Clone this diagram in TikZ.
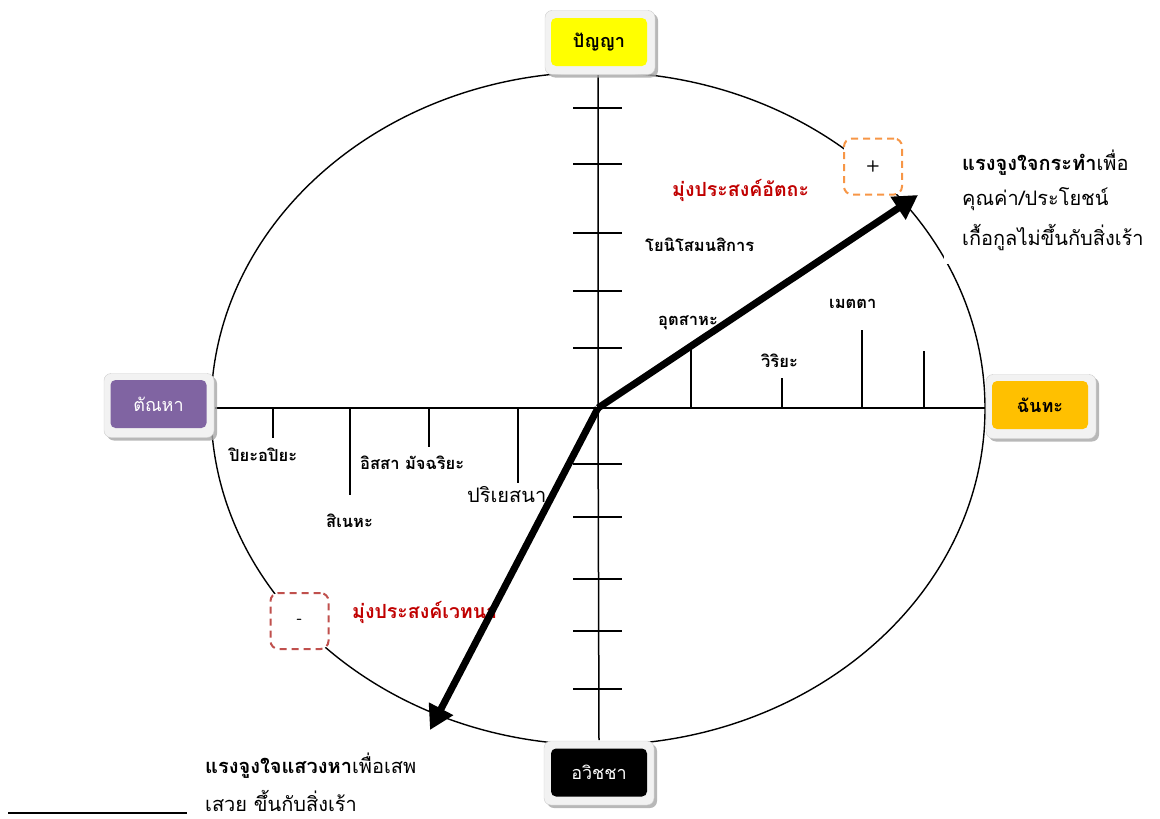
\documentclass[tikz,border=0pt]{standalone}
\usepackage{fontspec}
\newfontfamily\thai[Script=Thai]{Loma}
\usetikzlibrary{arrows.meta,shadows}
\definecolor{cyel}{HTML}{FFFF00}
\definecolor{cpur}{HTML}{8064A2}
\definecolor{corg}{HTML}{FFC000}
\definecolor{cdashO}{HTML}{F79646}
\definecolor{cdashR}{HTML}{C0504D}
\definecolor{cred}{HTML}{C00000}
\tikzset{
  frame/.style={draw=black!20, fill=black!5, rounded corners=7pt, minimum width=110pt, minimum height=64pt,
    drop shadow={shadow xshift=3pt, shadow yshift=-3pt, fill=black!35, opacity=.8}},
  core/.style={rounded corners=5pt, minimum width=96pt, minimum height=48pt, font=\thai\fontsize{18}{18}\selectfont},
  lbl/.style={font=\thai\bfseries\fontsize{16.5}{16.5}\selectfont, anchor=west, inner sep=0pt},
  rlbl/.style={font=\thai\bfseries\fontsize{19.5}{19.5}\selectfont, text=cred, anchor=west, inner sep=0pt},
  big/.style={font=\thai\fontsize{20}{20}\selectfont, anchor=west, inner sep=0pt, align=left},
  axis/.style={line width=1.5pt},
  tick/.style={line width=1.5pt},
  dbox/.style={dashed, dash pattern=on 7pt off 5pt, line width=2pt, rounded corners=8pt, fill=white, minimum width=58pt, minimum height=56pt, text=black, font=\sffamily\bfseries\fontsize{16}{16}\selectfont},
  bigarrow/.style={line width=7pt, -{Triangle[length=24pt,width=26pt]}}
}
\begin{document}
\begin{tikzpicture}[x=1pt,y=-1pt]
\useasboundingbox (0,0) rectangle (1160,819);
% ellipse
\draw[line width=1.4pt] (598,408.5) ellipse [x radius=387, y radius=336.5];
% white backing behind the right text
\fill[white] (944,136) rectangle (1160,264);
% axes
\coordinate (O) at (598,408);
\coordinate (T) at (598,75);
\coordinate (B) at (599,740);
\coordinate (L) at (215,408);
\coordinate (R) at (985,408);
\draw[axis] (L) -- (R);
\draw[axis] (T) -- (O) -- (B);
% vertical ticks
\foreach \y in {108,164,233,291,348,464,517,579,631,689}
  \draw[tick] (573,\y) -- (622,\y);
% horizontal ticks
\foreach \x/\yy in {273/438,350/495,429/447,518/483}
  \draw[tick] (\x,408) -- (\x,\yy);
\foreach \x/\yy in {691/348,782/378,862/330,924/351}
  \draw[tick] (\x,408) -- (\x,\yy);
% dashed boxes
\node[dbox, draw=cdashO] (plus) at (873,166.5) {+};
\node[dbox, draw=cdashR] (minus) at (299.5,621) {-};
% right text block
\node[big] (rtext) at (962,200) {{\bfseries แรงจูงใจกระทำ}เพื่อ\\[12pt]คุณค่า/ประโยชน์\\[12pt]เกื้อกูลไม่ขึ้นกับสิ่งเร้า};
% labels
\node[rlbl] (ra) at (672,190) {มุ่งประสงค์อัตถะ};
\node[rlbl] (rb) at (352,612) {มุ่งประสงค์เวทนา};
\node[lbl] (l1) at (645,245) {โยนิโสมนสิการ};
\node[lbl] (l2) at (658,323) {อุตสาหะ};
\node[lbl] (l3) at (761,361) {วิริยะ};
\node[lbl] (l4) at (829,304) {เมตตา};
\node[lbl] (l5) at (229,455) {ปิยะอปิยะ};
\node[lbl] (l6) at (360,463) {อิสสา มัจฉริยะ};
\node[lbl] (l7) at (326,521) {สิเนหะ};
\node[big] (l8) at (467,495) {ปริเยสนา};
% arrows
\coordinate (A1) at (918,195);
\coordinate (A2) at (430,730);
\draw[bigarrow] (O) -- (A1);
\draw[bigarrow] (O) -- (A2);
% bottom text
\node[big] (btext) at (205,766) {{\bfseries แรงจูงใจแสวงหา}เพื่อเสพ};
\node[big] (btext2) at (205,801) {เสวย ขึ้นกับสิ่งเร้า};
\coordinate (bl1) at (8,813);
\coordinate (bl2) at (187,813);
\draw[line width=1.2pt] (bl1) -- (bl2);
% corner boxes
\node[frame] (fT) at (600,42.5) {};
\node[core, fill=cyel, font=\thai\bfseries\fontsize{18}{18}\selectfont] (pan) at (599,42) {ปัญญา};
\node[frame] (fL) at (159,405.5) {};
\node[core, fill=cpur, text=white] (tan) at (158.5,404) {ตัณหา};
\node[frame] (fR) at (1041,406.5) {};
\node[core, fill=corg, font=\thai\bfseries\fontsize{18}{18}\selectfont] (chan) at (1040,405) {ฉันทะ};
\node[frame] (fB) at (599,773) {};
\node[core, fill=black, text=white] (avi) at (599,772.5) {อวิชชา};
\end{tikzpicture}
\end{document}
